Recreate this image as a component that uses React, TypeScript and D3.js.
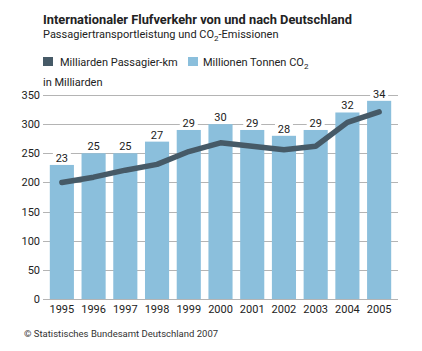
import React, { useEffect, useRef } from "react";
import * as d3 from "d3";

// data
const years = ["1995", "1996", "1997", "1998", "1999", "2000", "2001", "2002", "2003", "2004", "2005"];
// Millionen Tonnen CO2 (bar labels), bars drawn at value * 10
const co2 = [23, 25, 25, 27, 29, 30, 29, 28, 29, 32, 34];
// Milliarden Passagier-km
const passKm = [200, 209, 221, 231, 253, 268, 262, 256, 262, 303, 321];
const yTicks = [0, 50, 100, 150, 200, 250, 300, 350];

const BAR = "#8bbfdc";
const LINE = "#465a67";
const GRID = "#b4b4b4";
const FONT = "Roboto, 'DejaVu Sans', sans-serif";

export default function App() {
  const ref = useRef<SVGSVGElement>(null);

  useEffect(() => {
    const svg = d3.select(ref.current);
    svg.selectAll("*").remove();

    const W = 422, H = 351;
    const left = 43, right = 398, top = 95, bottom = 299;

    svg.append("rect").attr("width", W).attr("height", H).attr("fill", "#fff");

    // title + subtitle
    svg.append("text")
      .attr("x", 43).attr("y", 24)
      .attr("textLength", 309).attr("lengthAdjust", "spacingAndGlyphs")
      .style("font-family", FONT).style("font-size", "13px").style("font-weight", "bold")
      .attr("fill", "#222")
      .text("Internationaler Flufverkehr von und nach Deutschland");

    const sub = svg.append("text")
      .attr("x", 43).attr("y", 38)
      .style("font-family", FONT).style("font-size", "11px")
      .attr("fill", "#222");
    sub.append("tspan").text("Passagiertransportleistung und CO");
    sub.append("tspan").attr("dy", 3).style("font-size", "8px").text("2");
    sub.append("tspan").attr("dy", -3).text("-Emissionen");

    // legend
    svg.append("rect").attr("x", 43).attr("y", 57).attr("width", 10).attr("height", 9).attr("fill", LINE);
    svg.append("text").attr("x", 60).attr("y", 65.5)
      .style("font-family", FONT).style("font-size", "11px").attr("fill", "#222")
      .text("Milliarden Passagier-km");
    svg.append("rect").attr("x", 188).attr("y", 57).attr("width", 10).attr("height", 9).attr("fill", BAR);
    const lg = svg.append("text").attr("x", 203).attr("y", 65.5)
      .style("font-family", FONT).style("font-size", "11px").attr("fill", "#222");
    lg.append("tspan").text("Millionen Tonnen CO");
    lg.append("tspan").attr("dy", 3).style("font-size", "8px").text("2");

    svg.append("text").attr("x", 43).attr("y", 86)
      .style("font-family", FONT).style("font-size", "11px").attr("fill", "#222")
      .text("in Milliarden");

    const y = d3.scaleLinear().domain([0, 350]).range([bottom, top]);
    const x = d3.scaleBand<string>().domain(years).range([46, 395]).paddingInner(0.24).paddingOuter(0.12);

    // gridlines
    svg.append("g").selectAll("line")
      .data(yTicks)
      .join("line")
      .attr("x1", left).attr("x2", right)
      .attr("y1", d => Math.round(y(d)) + 0.5).attr("y2", d => Math.round(y(d)) + 0.5)
      .attr("stroke", GRID).attr("stroke-width", 1);

    svg.append("g").selectAll("text")
      .data(yTicks)
      .join("text")
      .attr("x", 40).attr("y", d => y(d) + 4)
      .attr("text-anchor", "end")
      .style("font-family", FONT).style("font-size", "11px").attr("fill", "#222")
      .text(d => d);

    // bars
    svg.append("g").selectAll("rect")
      .data(co2)
      .join("rect")
      .attr("x", (d, i) => x(years[i])!)
      .attr("y", d => y(d * 10))
      .attr("width", x.bandwidth())
      .attr("height", d => y(0) - y(d * 10))
      .attr("fill", BAR);

    // baseline again on top
    svg.append("line").attr("x1", left).attr("x2", right)
      .attr("y1", Math.round(y(0)) + 0.5).attr("y2", Math.round(y(0)) + 0.5)
      .attr("stroke", GRID);

    // value labels with white backing
    const lab = svg.append("g").selectAll("g")
      .data(co2)
      .join("g")
      .attr("transform", (d, i) => `translate(${x(years[i])! + x.bandwidth() / 2},${y(d * 10) - 3})`);
    lab.append("rect").attr("x", -9).attr("y", -11).attr("width", 18).attr("height", 12).attr("fill", "#fff");
    lab.append("text")
      .attr("text-anchor", "middle")
      .style("font-family", FONT).style("font-size", "11px").attr("fill", "#222")
      .text(d => d);

    // line
    const line = d3.line<number>()
      .x((d, i) => x(years[i])! + x.bandwidth() / 2)
      .y(d => y(d));
    svg.append("path")
      .datum(passKm)
      .attr("d", line)
      .attr("fill", "none")
      .attr("stroke", LINE).attr("stroke-width", 5.5)
      .attr("stroke-linejoin", "round").attr("stroke-linecap", "round");

    // year labels
    svg.append("g").selectAll("text")
      .data(years)
      .join("text")
      .attr("x", d => x(d)! + x.bandwidth() / 2)
      .attr("y", 313)
      .attr("text-anchor", "middle")
      .style("font-family", FONT).style("font-size", "11px").attr("fill", "#222")
      .text(d => d);

    svg.append("text").attr("x", 24).attr("y", 337)
      .style("font-family", FONT).style("font-size", "9.5px").attr("fill", "#333")
      .text("© Statistisches Bundesamt Deutschland 2007");
  }, []);

  return (
    <svg ref={ref} width={422} height={351} style={{ position: "absolute", left: 0, top: 0 }} />
  );
}
